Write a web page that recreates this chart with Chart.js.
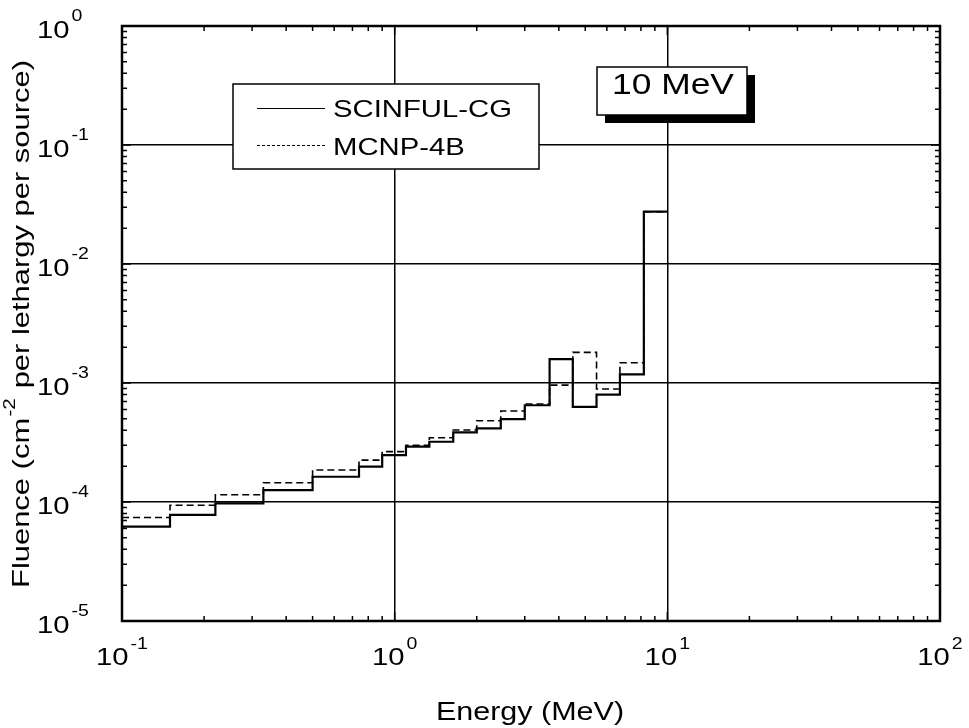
<!DOCTYPE html>
<html>
<head>
<meta charset="utf-8">
<script src="https://cdn.jsdelivr.net/npm/chart.js@4.4.1/dist/chart.umd.min.js"></script>
<style>
  html, body { margin: 0; padding: 0; background: #fff; }
  #wrap { width: 969px; height: 728px; position: relative; }
</style>
</head>
<body>
<div id="wrap"><canvas id="chart"></canvas></div>
<script>
// bin edges (MeV) and fluence per bin
const binEdges = [0.1, 0.15, 0.22, 0.33, 0.5, 0.74, 0.9, 1.1, 1.34, 1.64, 2.0, 2.45, 3.0, 3.7, 4.5, 5.5, 6.7, 8.2, 10];
const scinful = [6.2e-5, 7.8e-5, 9.75e-5, 1.26e-4, 1.63e-4, 1.98e-4, 2.48e-4, 2.92e-4, 3.21e-4, 3.85e-4, 4.16e-4, 4.98e-4, 6.5e-4, 1.59e-3, 6.3e-4, 8.0e-4, 1.18e-3, 2.75e-2];
const mcnp    = [7.4e-5, 9.4e-5, 1.15e-4, 1.45e-4, 1.86e-4, 2.25e-4, 2.65e-4, 3.0e-4, 3.47e-4, 4.03e-4, 4.82e-4, 5.82e-4, 6.66e-4, 9.6e-4, 1.81e-3, 8.9e-4, 1.48e-3, 2.75e-2];
const seriesNames = ['SCINFUL-CG', 'MCNP-4B'];
const xTickExps = [-1, 0, 1, 2];
const yTickExps = [-5, -4, -3, -2, -1, 0];
const energyLabel = 'Energy (MeV)';
const boxLabel = '10 MeV';

const FONT = '"Liberation Sans", Arial, Helvetica, sans-serif';
const SX = 1.22; // the scanned figure is a bit wider than the font

function steps(vals) {
    const pts = vals.map((v, i) => ({x: binEdges[i], y: v}));
    pts.push({x: binEdges[binEdges.length - 1], y: vals[vals.length - 1]});
    return pts;
}

function isDecade(v) {
    const l = Math.log10(v);
    return Math.abs(l - Math.round(l)) < 1e-6;
}

function txt(ctx, s, x, y, size, align, base, sx) {
    sx = sx || SX;
    ctx.save();
    ctx.font = size + 'px ' + FONT;
    ctx.textBaseline = base || 'alphabetic';
    ctx.textAlign = 'left';
    const w = ctx.measureText(s).width * sx;
    let x0 = x;
    if (align === 'center') x0 = x - w / 2;
    if (align === 'right') x0 = x - w;
    ctx.translate(x0, y);
    ctx.scale(sx, 1);
    ctx.fillStyle = '#000';
    ctx.fillText(s, 0, 0);
    ctx.restore();
    return w;
}

const decorations = {
    id: 'decorations',
    afterDatasetsDraw(chart) {
        const ctx = chart.ctx;
        // legend box
        ctx.save();
        ctx.fillStyle = '#fff';
        ctx.strokeStyle = '#000';
        ctx.lineWidth = 1.5;
        ctx.fillRect(233, 84, 306, 85);
        ctx.strokeRect(233, 84, 306, 85);
        ctx.lineWidth = 1.2;
        ctx.beginPath();
        ctx.moveTo(257, 108.5); ctx.lineTo(325, 108.5);
        ctx.stroke();
        ctx.setLineDash([3, 2]);
        ctx.beginPath();
        ctx.moveTo(257, 145.5); ctx.lineTo(325, 145.5);
        ctx.stroke();
        ctx.restore();
        txt(ctx, seriesNames[0], 333, 117, 24);
        txt(ctx, seriesNames[1], 333, 155, 24);

        // "10 MeV" box with drop shadow
        ctx.save();
        ctx.fillStyle = '#000';
        ctx.fillRect(605, 75, 150, 48);
        ctx.fillStyle = '#fff';
        ctx.fillRect(597, 67, 150, 48);
        ctx.strokeStyle = '#000';
        ctx.lineWidth = 1.5;
        ctx.strokeRect(597, 67, 150, 48);
        ctx.restore();
        txt(ctx, boxLabel, 612, 93.5, 29);
    },
    afterDraw(chart) {
        const ctx = chart.ctx;
        const a = chart.chartArea;
        const xs = chart.scales.x, ys = chart.scales.y;
        ctx.save();
        ctx.strokeStyle = '#000';
        // minor/major ticks pointing inwards on all four sides
        ctx.lineWidth = 1.5;
        ctx.beginPath();
        xTickExps.forEach(e => {
            for (let m = 1; m <= 9; m++) {
                const v = m * Math.pow(10, e);
                if (v > xs.max * 1.0001) break;
                const px = xs.getPixelForValue(v);
                const len = m === 1 ? 9 : 5;
                ctx.moveTo(px, a.bottom); ctx.lineTo(px, a.bottom - len);
                ctx.moveTo(px, a.top); ctx.lineTo(px, a.top + len);
            }
        });
        yTickExps.forEach(e => {
            for (let m = 1; m <= 9; m++) {
                const v = m * Math.pow(10, e);
                if (v > ys.max * 1.0001) break;
                const py = ys.getPixelForValue(v);
                const len = m === 1 ? 9 : 5;
                ctx.moveTo(a.left, py); ctx.lineTo(a.left + len, py);
                ctx.moveTo(a.right, py); ctx.lineTo(a.right - len, py);
            }
        });
        ctx.stroke();
        // frame
        ctx.lineWidth = 2.5;
        ctx.strokeRect(a.left, a.top, a.right - a.left, a.bottom - a.top);
        ctx.restore();

        // tick labels 10^n
        yTickExps.forEach(e => {
            const py = ys.getPixelForValue(Math.pow(10, e));
            const w = txt(ctx, '10', 37, py + 5, 24, 'left', 'middle');
            txt(ctx, String(e), 37 + w + 2, py - 9, 16, 'left', 'middle');
        });
        ctx.save();
        ctx.font = '24px ' + FONT;
        const w10 = ctx.measureText('10').width * SX;
        ctx.font = '16px ' + FONT;
        xTickExps.forEach(e => {
            const px = xs.getPixelForValue(Math.pow(10, e));
            const we = ctx.measureText(String(e)).width * SX;
            const start = px - (w10 + 2 + we) / 2;
            txt(ctx, '10', start, 658, 24, 'left', 'middle');
            txt(ctx, String(e), start + w10 + 2, 645, 16, 'left', 'middle');
        });
        ctx.restore();

        // axis titles
        txt(ctx, energyLabel, 530, 720, 25, 'center');
        ctx.save();
        ctx.translate(29, 324);
        ctx.rotate(-Math.PI / 2);
        ctx.font = '24px ' + FONT;
        const p1 = 'Fluence (cm', p2 = ' per lethargy per source)';
        const w1 = ctx.measureText(p1).width, w2 = ctx.measureText(p2).width;
        ctx.font = '16px ' + FONT;
        const ws = ctx.measureText('-2').width + 2;
        const s = 528 / (w1 + ws + w2);
        ctx.scale(s, 1);
        let x0 = -(w1 + ws + w2) / 2;
        ctx.fillStyle = '#000';
        ctx.textBaseline = 'alphabetic';
        ctx.font = '24px ' + FONT;
        ctx.fillText(p1, x0, 0);
        ctx.font = '16px ' + FONT;
        ctx.fillText('-2', x0 + w1 + 1, -14);
        ctx.font = '24px ' + FONT;
        ctx.fillText(p2, x0 + w1 + ws, 0);
        ctx.restore();
    }
};

const ctx = document.getElementById('chart').getContext('2d');
const chart = new Chart(ctx, {
    type: 'line',
    data: {
        datasets: [{
            label: seriesNames[0],
            data: steps(scinful),
            borderColor: '#000',
            borderWidth: 2.2,
            stepped: 'before',
            pointRadius: 0,
            fill: false
        }, {
            label: seriesNames[1],
            data: steps(mcnp),
            borderColor: '#000',
            borderWidth: 1.6,
            borderDash: [7, 4],
            stepped: 'before',
            pointRadius: 0,
            fill: false
        }]
    },
    options: {
        responsive: true,
        maintainAspectRatio: false,
        animation: false,
        layout: { padding: { left: 122, top: 26, right: 29, bottom: 107 } },
        plugins: {
            legend: { display: false },
            tooltip: { enabled: false }
        },
        scales: {
            x: {
                type: 'logarithmic',
                min: 0.1,
                max: 100,
                ticks: { display: false },
                border: { display: false },
                grid: {
                    drawTicks: false,
                    lineWidth: 1.5,
                    color: c => isDecade(c.tick.value) ? '#000' : 'rgba(0,0,0,0)'
                }
            },
            y: {
                type: 'logarithmic',
                min: 1e-5,
                max: 1,
                ticks: { display: false },
                border: { display: false },
                grid: {
                    drawTicks: false,
                    lineWidth: 1.5,
                    color: c => isDecade(c.tick.value) ? '#000' : 'rgba(0,0,0,0)'
                }
            }
        }
    },
    plugins: [decorations]
});
</script>
</body>
</html>
